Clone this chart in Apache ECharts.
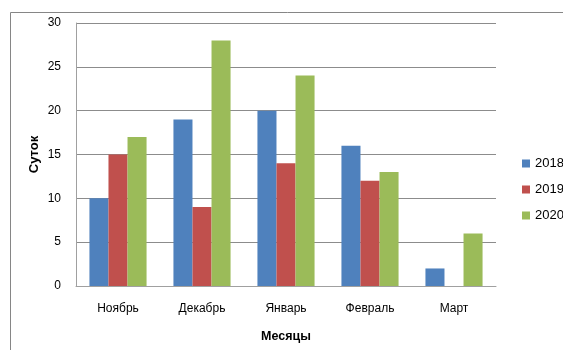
<!DOCTYPE html>
<html>
<head>
<meta charset="utf-8">
<script src="https://cdn.jsdelivr.net/npm/echarts@6/dist/echarts.min.js"></script>
<style>
  html, body { margin: 0; padding: 0; background: #fff; }
  #chart { width: 563px; height: 350px; }
</style>
</head>
<body>
<div id="chart"></div>
<script>
// Месяцы отопительного сезона и число суток по годам
const months = ['Ноябрь', 'Декабрь', 'Январь', 'Февраль', 'Март'];
const y2018 = [10, 19, 20, 16, 2];
const y2019 = [15, 9, 14, 12, 0];
const y2020 = [17, 28, 24, 13, 6];
const seriesNames = ['2018', '2019', '2020'];
const colors = ['#4F81BD', '#C0504D', '#9BBB59'];

const font = 'Liberation Sans, Arial, sans-serif';
const chart = echarts.init(document.getElementById('chart'), null, { renderer: 'canvas' });

const mkSeries = (name, data, color) => ({
  name: name,
  type: 'bar',
  data: data,
  barGap: '0%',
  barCategoryGap: '32%',
  itemStyle: { color: color },
  emphasis: { disabled: true },
  animation: false
});

chart.setOption({
  animation: false,
  textStyle: { fontFamily: font, color: '#000' },
  graphic: [{
    type: 'rect',
    shape: { x: 10.5, y: 12.5, width: 700, height: 500 },
    style: { fill: 'none', stroke: '#868686', lineWidth: 1 },
    silent: true,
    z: -10
  }],
  grid: { left: 76, top: 23, right: 67, bottom: 64 },
  legend: {
    orient: 'vertical',
    left: 517,
    top: 152,
    itemWidth: 8,
    itemHeight: 8,
    itemGap: 13,
    icon: 'rect',
    textStyle: { fontSize: 13, fontFamily: font, color: '#000' },
    data: seriesNames
  },
  xAxis: {
    type: 'category',
    data: months,
    name: 'Месяцы',
    nameLocation: 'middle',
    nameGap: 44,
    nameMoveOverlap: false,
    nameTextStyle: { fontWeight: 'bold', fontSize: 12.5, color: '#000' },
    axisLine: { lineStyle: { color: '#A0A0A0', width: 1 } },
    axisTick: { show: false },
    axisLabel: { fontSize: 12, color: '#000', margin: 17 }
  },
  yAxis: {
    type: 'value',
    min: 0,
    max: 30,
    interval: 5,
    name: 'Суток',
    nameLocation: 'middle',
    nameGap: 35,
    nameMoveOverlap: false,
    nameTextStyle: { fontWeight: 'bold', fontSize: 13, color: '#000' },
    axisLine: { show: true, lineStyle: { color: '#A0A0A0', width: 1 } },
    axisTick: { show: false },
    axisLabel: { fontSize: 12, color: '#000', margin: 15 },
    splitLine: { lineStyle: { color: '#8C8C8C', width: 1 } }
  },
  series: [
    mkSeries(seriesNames[0], y2018, colors[0]),
    mkSeries(seriesNames[1], y2019, colors[1]),
    mkSeries(seriesNames[2], y2020, colors[2])
  ]
});
</script>
</body>
</html>
